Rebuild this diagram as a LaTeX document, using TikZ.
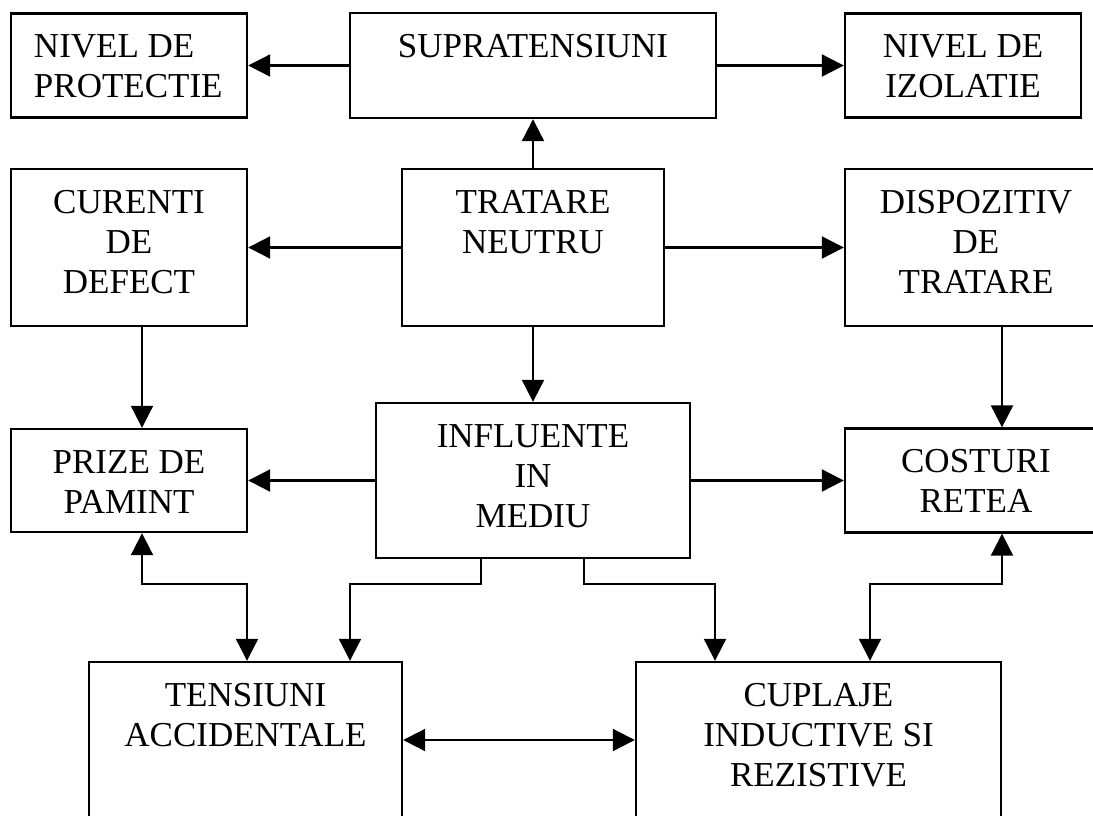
\documentclass[tikz,border=0pt]{standalone}
\usepackage{fontspec}
\setmainfont{Liberation Serif}
\usetikzlibrary{arrows.meta}

% box content: width, height, paragraph alignment, text (top anchored)
\newcommand\boxtext[4]{\parbox[c][#2][t]{#1}{#3\rule{0pt}{44pt}#4}}

\tikzset{
  block/.style={draw, line width=2.4pt, inner sep=0pt, font=\fontsize{35}{40}\selectfont},
  link/.style={line width=2.2pt, -{Triangle[length=22pt,width=22pt]}},
  link2/.style={line width=2.2pt, {Triangle[length=22pt,width=22pt]}-{Triangle[length=22pt,width=22pt]}},
}

\begin{document}
\begin{tikzpicture}[x=1pt,y=-1pt]
\useasboundingbox (0,0) rectangle (1093,815);

% top row
\node[block] (prot) at (129,65.5)
  {\boxtext{236pt}{104pt}{\raggedright\leftskip=23pt}{NIVEL DE\\PROTECTIE}};
\node[block] (supra) at (533,65.5)
  {\boxtext{366pt}{105pt}{\centering}{SUPRATENSIUNI}};
\node[block] (izol) at (963,65.5)
  {\boxtext{236pt}{104pt}{\centering}{NIVEL DE\\IZOLATIE}};

% second row
\node[block] (cur) at (129,247.5)
  {\boxtext{236pt}{157pt}{\centering}{CURENTI\\DE\\DEFECT}};
\node[block] (trat) at (533,247.5)
  {\boxtext{262pt}{157pt}{\centering}{TRATARE\\NEUTRU}};
\node[block] (disp) at (976,247.5)
  {\boxtext{262pt}{157pt}{\centering}{DISPOZITIV\\DE\\TRATARE}};

% third row
\node[block] (prize) at (129,480.5)
  {\boxtext{236pt}{103pt}{\centering}{PRIZE DE\\PAMINT}};
\node[block] (infl) at (533,480.5)
  {\boxtext{314pt}{155pt}{\centering}{INFLUENTE\\IN\\MEDIU}};
\node[block] (cost) at (976,480.5)
  {\boxtext{262pt}{104pt}{\centering}{COSTURI\\RETEA}};

% bottom row
\node[block] (tens) at (245.5,756)
  {\boxtext{313pt}{188pt}{\centering}{TENSIUNI\\ACCIDENTALE}};
\node[block] (cupl) at (818.5,756)
  {\boxtext{365pt}{188pt}{\centering}{CUPLAJE\\INDUCTIVE SI\\REZISTIVE}};

% junction points of the lower connectors
\coordinate (j1) at (247,584);
\coordinate (j2) at (350,584);
\coordinate (j3) at (715,584);
\coordinate (j4) at (870,584);
\coordinate (j5) at (0,740);

% connectors
\draw[link] (supra.west) -- (prot.east);
\draw[link] (supra.east) -- (izol.west);
\draw[link] (trat.north) -- (supra.south);
\draw[link] (trat.west) -- (cur.east);
\draw[link] (trat.east) -- (disp.west);
\draw[link] (trat.south) -- (infl.north);
\draw[link] ([xshift=13pt]cur.south) -- ([xshift=13pt]prize.north);
\draw[link] ([xshift=26pt]disp.south) -- ([xshift=26pt]cost.north);
\draw[link] (infl.west) -- (prize.east);
\draw[link] (infl.east) -- (cost.west);
\draw[link2] ([xshift=13pt]prize.south) |- (j1) -- (j1 |- tens.north);
\draw[link] ([xshift=-52pt]infl.south) |- (j2) -- (j2 |- tens.north);
\draw[link] ([xshift=51pt]infl.south) |- (j3) -- (j3 |- cupl.north);
\draw[link2] ([xshift=26pt]cost.south) |- (j4) -- (j4 |- cupl.north);
\draw[link2] (tens.east |- j5) -- (cupl.west |- j5);
\end{tikzpicture}
\end{document}
